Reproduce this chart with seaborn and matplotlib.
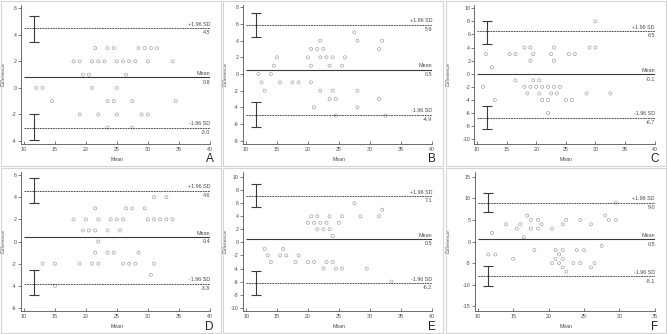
import matplotlib
matplotlib.use("Agg")
import matplotlib.pyplot as plt
import pandas as pd
import seaborn as sns
from matplotlib.patches import Rectangle

# ---------------------------------------------------------------------------
# Data
# ---------------------------------------------------------------------------

a_mean = [21.5, 23.5, 24.5, 28.5, 29.5, 30.5, 31.5,
          18, 19, 21, 22, 23, 25, 26, 27, 28, 30, 34,
          19.5, 20.5, 26.5,
          12, 13, 21, 25,
          14.5, 23.5, 24.5, 27.5, 34.5,
          19, 22, 25, 29, 30,
          23.5, 27.5]
a_diff = [3, 3, 3, 3, 3, 3, 3,
          2, 2, 2, 2, 2, 2, 2, 2, 2, 2, 2,
          1, 1, 1,
          0, 0, 0, 0,
          -1, -1, -1, -1, -1,
          -2, -2, -2, -2, -2,
          -3, -3]
a_limits = [0.8, 4.5, -3.0]
a_upper_ci = [3.45, 5.45]
a_lower_ci = [-3.95, -2.0]

b_mean = [27.5,
          22, 28, 32,
          20.5, 21.5, 22.5, 31.5,
          15, 20, 22, 23, 24, 26,
          14.5, 20.5, 23.5, 25.5,
          12, 14,
          12.5, 15.5, 17.5, 18.5, 20.5,
          13, 22, 24, 28,
          23.5, 24.5, 31.5,
          21, 28,
          24.5, 32.5]
b_diff = [5,
          4, 4, 4,
          3, 3, 3, 3,
          2, 2, 2, 2, 2, 2,
          1, 1, 1, 1,
          0, 0,
          -1, -1, -1, -1, -1,
          -2, -2, -2, -2,
          -3, -3, -3,
          -4, -4,
          -5, -5]
b_limits = [0.5, 5.9, -4.9]
b_upper_ci = [4.4, 7.3]
b_lower_ci = [-6.3, -3.4]

c_mean = [30,
          18, 19, 23, 29, 30,
          11.5, 15.5, 16.5, 19.5, 22.5, 25.5, 26.5,
          19, 23,
          12.5,
          16.5, 19.5, 20.5,
          11, 18, 19, 20, 21, 22, 23, 24,
          18.5, 20.5, 22.5, 23.5, 28.5, 32.5,
          13, 21, 22, 25, 26,
          22]
c_diff = [8,
          4, 4, 4, 4, 4,
          3, 3, 3, 3, 3, 3, 3,
          2, 2,
          1,
          -1, -1, -1,
          -2, -2, -2, -2, -2, -2, -2, -2,
          -3, -3, -3, -3, -3, -3,
          -4, -4, -4, -4, -4,
          -6]
c_limits = [-0.1, 6.5, -6.7]
c_upper_ci = [4.6, 8.1]
c_lower_ci = [-8.4, -4.9]

d_mean = [31, 33,
          21.5, 26.5, 27.5, 29.5,
          18, 20, 22, 24, 25, 26, 30, 31, 32, 33, 34,
          19.5, 20.5, 21.5, 23.5, 25.5,
          22,
          21.5, 23.5, 24.5, 28.5,
          13, 15, 19, 21, 22, 26, 27, 28, 31,
          30.5,
          15]
d_diff = [4, 4,
          3, 3, 3, 3,
          2, 2, 2, 2, 2, 2, 2, 2, 2, 2, 2,
          1, 1, 1, 1, 1,
          0,
          -1, -1, -1, -1,
          -2, -2, -2, -2, -2, -2, -2, -2, -2,
          -3,
          -4]
d_limits = [0.4, 4.6, -3.8]
d_upper_ci = [3.5, 5.7]
d_lower_ci = [-4.8, -2.6]

e_mean = [27.5,
          32,
          20.5, 21.5, 23.5, 25.5, 28.5, 31.5,
          20, 21, 22, 23, 25,
          21.5, 22.5, 23.5,
          24,
          13, 16,
          13.5, 15.5, 16.5, 18.5,
          14, 18, 20, 21, 23, 24,
          22.5, 24.5, 25.5, 29.5,
          33.5]
e_diff = [6,
          5,
          4, 4, 4, 4, 4, 4,
          3, 3, 3, 3, 3,
          2, 2, 2,
          1,
          -1, -1,
          -2, -2, -2, -2,
          -3, -3, -3, -3, -3, -3,
          -4, -4, -4, -4,
          -6]
e_limits = [0.5, 7.1, -6.2]
e_upper_ci = [5.4, 8.9]
e_lower_ci = [-8.0, -4.4]

f_mean = [29.5,
          17, 28,
          17.5, 18.5, 22.5, 24.5, 28.5, 29.5,
          14, 16, 19, 22, 26,
          15.5, 17.5, 18.5, 20.5,
          12,
          16.5,
          27.5,
          18, 21, 22, 24, 25,
          11.5, 12.5, 21.5,
          15, 21, 22,
          20.5, 21.5, 23.5, 24.5, 26.5,
          22, 26,
          22.5]
f_diff = [9,
          6, 6,
          5, 5, 5, 5, 5, 5,
          4, 4, 4, 4, 4,
          3, 3, 3, 3,
          2,
          1,
          -1,
          -2, -2, -2, -2, -2,
          -3, -3, -3,
          -4, -4, -4,
          -5, -5, -5, -5, -5,
          -6, -6,
          -7]
f_limits = [0.5, 9.0, -8.1]
f_upper_ci = [6.9, 11.3]
f_lower_ci = [-10.2, -5.6]

x_ticks_40 = [10, 15, 20, 25, 30, 35, 40]
x_ticks_35 = [10, 15, 20, 25, 30, 35]

# ---------------------------------------------------------------------------
# Layout (pixels, 668 x 334 canvas)
# ---------------------------------------------------------------------------

W, H = 668, 334
PANEL_W, PANEL_H = 222, 167
TEXT = "#4a4a4a"
sns.set_style("ticks")
plt.rcParams["font.family"] = ["Liberation Sans", "DejaVu Sans"]
plt.rcParams["axes.unicode_minus"] = False

panels = [
    dict(letter="A", x=a_mean, y=a_diff, lim=a_limits, uci=a_upper_ci, lci=a_lower_ci,
         col=0, row=0, left=20.7, xlim=(9.47, 40.05), ylim=(-4.23, 6.25),
         xticks=x_ticks_40, yticks=[-4, -2, 0, 2, 4, 6], bar_x=11.65),
    dict(letter="B", x=b_mean, y=b_diff, lim=b_limits, uci=b_upper_ci, lci=b_lower_ci,
         col=1, row=0, left=20.7, xlim=(9.47, 40.05), ylim=(-8.4, 8.28),
         xticks=x_ticks_40, yticks=[-8, -6, -4, -2, 0, 2, 4, 6, 8], bar_x=11.65),
    dict(letter="C", x=c_mean, y=c_diff, lim=c_limits, uci=c_upper_ci, lci=c_lower_ci,
         col=2, row=0, left=29.3, xlim=(9.54, 40.05), ylim=(-10.72, 10.5),
         xticks=x_ticks_40, yticks=[-10, -8, -6, -4, -2, 0, 2, 4, 6, 8, 10], bar_x=11.6),
    dict(letter="D", x=d_mean, y=d_diff, lim=d_limits, uci=d_upper_ci, lci=d_lower_ci,
         col=0, row=1, left=20.7, xlim=(9.47, 40.05), ylim=(-6.27, 6.28),
         xticks=x_ticks_40, yticks=[-6, -4, -2, 0, 2, 4, 6], bar_x=11.65),
    dict(letter="E", x=e_mean, y=e_diff, lim=e_limits, uci=e_upper_ci, lci=e_lower_ci,
         col=1, row=1, left=21.0, xlim=(9.5, 40.05), ylim=(-10.5, 10.77),
         xticks=x_ticks_40, yticks=[-10, -8, -6, -4, -2, 0, 2, 4, 6, 8, 10], bar_x=11.65),
    dict(letter="F", x=f_mean, y=f_diff, lim=f_limits, uci=f_upper_ci, lci=f_lower_ci,
         col=2, row=1, left=30.0, xlim=(9.62, 35.03), ylim=(-16.1, 16.1),
         xticks=x_ticks_35, yticks=[-15, -10, -5, 0, 5, 10, 15], bar_x=11.45),
]

fig = plt.figure(figsize=(W / 100, H / 100), dpi=100)
fig.patch.set_facecolor("white")

TOP, BOTTOM, RIGHT = 5, 144, 210

for p in panels:
    ox = [0, 222, 445][p["col"]]
    oy = [0, 167][p["row"]]

    # light panel frame
    fig.patches.append(Rectangle(((ox + 1) / W, 1 - (oy + PANEL_H - 1) / H),
                                 (PANEL_W - 2) / W, (PANEL_H - 2) / H,
                                 transform=fig.transFigure, fill=False,
                                 edgecolor="#d4d4d4", linewidth=0.8))

    ax = fig.add_axes([(ox + p["left"]) / W, 1 - (oy + BOTTOM) / H,
                       (RIGHT - p["left"]) / W, (BOTTOM - TOP) / H])
    df = pd.DataFrame({"Mean": p["x"], "Difference": p["y"]})
    sns.scatterplot(data=df, x="Mean", y="Difference", ax=ax, marker="o",
                    s=5, facecolor="none", edgecolor="#9a9a9a", linewidth=0.45)

    m, up, lo = p["lim"]
    x0 = p["xticks"][0]
    x1 = p["xlim"][1]
    ax.hlines(m, x0, x1, color="#3a3a3a", linewidth=0.8)
    ax.hlines([up, lo], x0, x1, color="#3a3a3a", linewidth=0.6,
              linestyles=(0, (2.2, 0.9)))

    for ci in (p["uci"], p["lci"]):
        mid = (ci[0] + ci[1]) / 2
        ax.errorbar([p["bar_x"]], [mid], yerr=[[mid - ci[0]], [ci[1] - mid]],
                    fmt="none", ecolor="#3a3a3a", elinewidth=0.8,
                    capsize=3.4, capthick=0.8)

    tr = ax.get_yaxis_transform()
    for val, name in ((up, "+1.96 SD"), (m, "Mean"), (lo, "-1.96 SD")):
        ax.annotate(name, (1.0, val), xycoords=tr, xytext=(0, 1.0),
                    textcoords="offset points", ha="right", va="bottom",
                    fontsize=3.9, color=TEXT)
        ax.annotate(f"{val:.1f}", (1.0, val), xycoords=tr, xytext=(0, -1.6),
                    textcoords="offset points", ha="right", va="top",
                    fontsize=3.9, color=TEXT)

    ax.set_xlim(p["xlim"])
    ax.set_ylim(p["ylim"])
    ax.set_xticks(p["xticks"])
    ax.set_yticks(p["yticks"])
    ax.tick_params(axis="x", direction="in", length=2, width=0.5, pad=2.2,
                   labelsize=3.8, colors=TEXT)
    ax.tick_params(axis="y", direction="out", length=2, width=0.5, pad=1,
                   labelsize=3.8, colors=TEXT)
    for side in ("top", "right"):
        ax.spines[side].set_visible(False)
    for side in ("left", "bottom"):
        ax.spines[side].set_color("#555555")
        ax.spines[side].set_linewidth(0.6)

    ax.set_xlabel("Mean", fontsize=3.8, color=TEXT)
    ax.set_ylabel("Difference", fontsize=3.8, color=TEXT)
    span = RIGHT - p["left"]
    x_center_px = (ax.transData.transform((p["xticks"][0], 0))[0] +
                   ax.transData.transform((p["xticks"][-1], 0))[0]) / 2
    ax_x0, _ = ax.transAxes.transform((0, 0))
    ax_x1, _ = ax.transAxes.transform((1, 0))
    ax.xaxis.set_label_coords((x_center_px - ax_x0) / (ax_x1 - ax_x0),
                              (BOTTOM - 157) / (BOTTOM - TOP))
    ax.yaxis.set_label_coords((5.5 - p["left"]) / span, 0.5)

    fig.text((ox + 209.5) / W, 1 - (oy + 159.5) / H, p["letter"],
             ha="center", va="center", fontsize=8.5, color="#222222")

fig.savefig("out.png", dpi=100, facecolor="white")
